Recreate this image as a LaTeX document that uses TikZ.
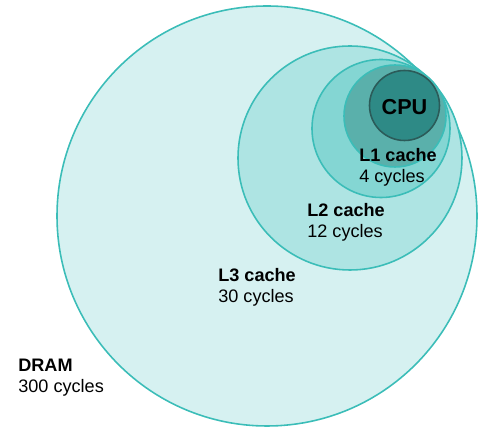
\documentclass[tikz,border=0pt]{standalone}
\usepackage{fontspec}
\setmainfont{Liberation Sans}
\definecolor{ring}{HTML}{3BBDB8}
\definecolor{dramfill}{HTML}{D6F1F1}
\definecolor{lthreefill}{HTML}{AEE4E3}
\definecolor{ltwofill}{HTML}{84D6D3}
\definecolor{lonefill}{HTML}{5AB0AB}
\definecolor{cpufill}{HTML}{2E8A86}
\definecolor{cpuring}{HTML}{2B5B59}
\begin{document}
\begin{tikzpicture}[x=0.02cm,y=-0.02cm,
    level/.style={draw=ring,line width=0.9pt},
    lbl/.style={anchor=base west,align=left,inner sep=0pt,
      font=\fontsize{10.3}{12.5}\selectfont}]
    \useasboundingbox (0,0) rectangle (481,428);
    %% Memory levels
    \draw[level,fill=dramfill] (267,216) circle[radius=210];
    \draw[level,fill=lthreefill] (350,158) circle[radius=112];
    \draw[level,fill=ltwofill] (381,128.5) circle[radius=69];
    \draw[level,fill=lonefill] (395,116) circle[radius=51];
    %% CPU
    \draw[draw=cpuring,line width=0.9pt,fill=cpufill] (404.5,105.5) circle[radius=35];
    \node[font=\bfseries\fontsize{12.3}{14}\selectfont] (cpu) at (404.5,107) {CPU};
    %% Labels (anchored at the baseline of the last line)
    \node[lbl] (dram) at (18,393) {\textbf{DRAM}\\300 cycles};
    \node[lbl] (lthree) at (218,303) {\textbf{L3 cache}\\30 cycles};
    \node[lbl] (ltwo) at (307,238) {\textbf{L2 cache}\\12 cycles};
    \node[lbl] (lone) at (359,183) {\textbf{L1 cache}\\4 cycles};
\end{tikzpicture}
\end{document}
